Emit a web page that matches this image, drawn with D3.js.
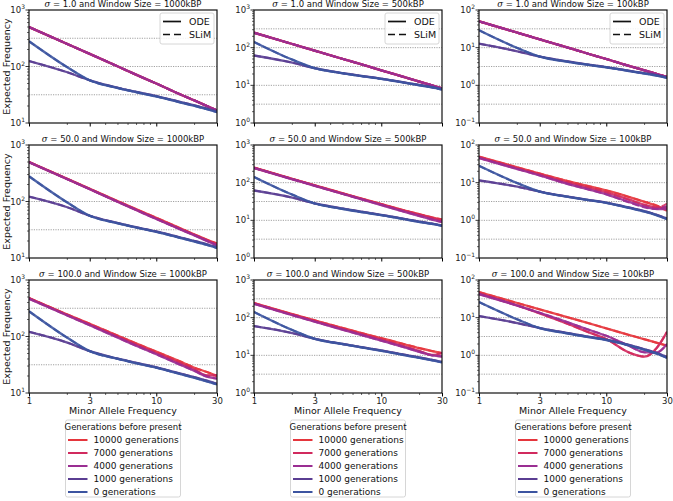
<!DOCTYPE html>
<html>
<head>
<meta charset="utf-8">
<script src="https://cdn.jsdelivr.net/npm/d3@7"></script>
<style>
  body { margin: 0; background: #fff; }
  svg { display: block; font-family: "DejaVu Sans", sans-serif; }
</style>
</head>
<body>
<svg id="chart" width="673" height="501"></svg>
<script>
// ---------------- DATA ----------------
const xs = [1, 2, 3, 5, 7, 10, 15, 20, 25, 30];
const xTicks = [1, 3, 10, 30];
const sigmas = ["1.0", "50.0", "100.0"];
const windows = ["1000kBP", "500kBP", "100kBP"];
const yDomains = [[10, 1000], [1, 1000], [0.1, 100]];
const generations = ["10000 generations", "7000 generations", "4000 generations", "1000 generations", "0 generations"];
const genColors = ["#e5363d", "#d12a5e", "#9a2e92", "#5a3d92", "#3c54a0"];
const models = ["ODE", "SLiM"];

// ODE expected frequencies, order: 10000, 7000, 4000, 1000, 0 generations
const ode_s1_w1000 = [
  [500, 250, 167, 100, 71, 50, 33, 25, 20, 16.7],
  [500, 250, 167, 100, 71, 50, 33, 25, 20, 16.7],
  [500, 250, 167, 100, 71, 50, 33, 25, 20, 16.7],
  [125, 79, 57, 42, 35.5, 30, 24, 20.5, 18, 16],
  [280, 97, 57, 41.5, 35, 29.5, 23.5, 20, 17.5, 15.5]
];
const ode_s1_w500 = [
  [250, 125, 83, 50, 36, 25, 16.7, 12.5, 10, 8.3],
  [250, 125, 83, 50, 36, 25, 16.7, 12.5, 10, 8.3],
  [250, 125, 83, 50, 36, 25, 16.7, 12.5, 10, 8.3],
  [62, 40, 28.5, 21, 17.8, 15, 12, 10.2, 9, 8],
  [142, 48, 28.5, 20.8, 17.5, 14.8, 11.8, 10, 8.8, 7.7]
];
const ode_s1_w100 = [
  [50, 25, 16.7, 10, 7.1, 5, 3.3, 2.5, 2, 1.67],
  [50, 25, 16.7, 10, 7.1, 5, 3.3, 2.5, 2, 1.67],
  [50, 25, 16.7, 10, 7.1, 5, 3.3, 2.5, 2, 1.67],
  [12.8, 8, 5.8, 4.3, 3.6, 3.05, 2.45, 2.1, 1.85, 1.62],
  [29, 9.8, 5.8, 4.2, 3.55, 3.0, 2.4, 2.05, 1.8, 1.57]
];
const ode_s50_w1000 = [
  [500, 251, 168, 101, 72.5, 51.5, 34.5, 26, 21, 18],
  [500, 250, 166, 99, 71, 50, 33.5, 25.5, 20.5, 17.3],
  [495, 248, 165, 98, 70, 49, 33, 25, 20, 16.7],
  [122, 79, 56, 41.5, 35, 29.5, 23.5, 20, 17.5, 15.5],
  [280, 96, 56, 41, 34.5, 29, 23, 19.5, 17, 15]
];
const ode_s50_w500 = [
  [250, 126, 85, 52, 37.5, 27, 18.5, 14.5, 12, 10.5],
  [250, 125, 84, 51, 37, 26.5, 18, 14, 11.5, 10],
  [245, 123, 82, 50, 36, 25.5, 17, 13, 10.5, 9],
  [62, 40, 28, 20.5, 17, 14, 11, 9.3, 8.2, 7.3],
  [142, 48, 28, 20, 16.5, 13.7, 10.7, 9, 8, 7.1]
];
const ode_s50_w100 = [
  [49, 25.5, 17.5, 11, 8.3, 6.2, 4.2, 3.1, 2.4, 1.8],
  [47, 24, 16.5, 10, 7.5, 5.5, 3.6, 2.6, 2.2, 2.2],
  [45, 23, 15.5, 9.2, 6.8, 4.9, 3.1, 2.3, 2.0, 2.0],
  [11.5, 7.8, 5.8, 4.25, 3.55, 2.95, 2.2, 1.75, 1.4, 1.12],
  [28, 9.7, 5.8, 4.2, 3.5, 2.9, 2.15, 1.7, 1.35, 1.08]
];
const ode_s100_w1000 = [
  [480, 245, 168, 103, 75, 54, 37, 28, 23.5, 20],
  [475, 240, 163, 99, 71, 51, 34.5, 26, 20.5, 20.5],
  [465, 235, 158, 95, 68, 48.5, 32.5, 24.5, 19.5, 18],
  [121, 78, 55, 40.5, 34, 28.5, 22.5, 19, 16.5, 14.5],
  [280, 95, 55, 40, 33.5, 28, 22, 18.5, 16, 14.2]
];
const ode_s100_w500 = [
  [245, 124, 85, 53, 39, 28.5, 20, 15.5, 13, 11.5],
  [240, 120, 81, 50, 36.5, 26, 17.5, 13, 10.2, 11.5],
  [232, 116, 78, 47.5, 34.5, 24.5, 16.5, 12.3, 10, 9.3],
  [60, 39, 27.5, 20, 16.5, 13.5, 10.5, 8.8, 7.6, 6.7],
  [142, 47, 27.5, 19.8, 16.2, 13.2, 10.2, 8.5, 7.4, 6.5]
];
const ode_s100_w100 = [
  [48, 24.5, 16.6, 10.2, 7.4, 5.2, 3.5, 2.67, 2.15, 1.8],
  [44, 21, 13, 6.8, 4.3, 2.7, 1.2, 0.92, 1.6, 4.2],
  [42, 21, 13.5, 7.5, 5.0, 3.3, 1.8, 1.2, 1.2, 2.0],
  [11, 7.2, 5.3, 3.9, 3.2, 2.6, 1.9, 1.45, 1.15, 0.9],
  [26, 9, 5.3, 3.8, 3.1, 2.55, 1.85, 1.4, 1.1, 0.85]
];

// SLiM simulated frequencies (overlap ODE except where the tails differ)
const slim_s1_w1000 = ode_s1_w1000;
const slim_s1_w500 = ode_s1_w500;
const slim_s1_w100 = ode_s1_w100;
const slim_s50_w1000 = ode_s50_w1000;
const slim_s50_w500 = ode_s50_w500;
const slim_s50_w100 = [
  [49, 25.5, 17.5, 11, 8.3, 6.2, 4.2, 3.1, 2.5, 2.0],
  [47, 24, 16.5, 10, 7.5, 5.5, 3.5, 2.5, 2.2, 2.8],
  [45, 23, 15.5, 9.2, 6.8, 4.9, 3.0, 2.2, 2.0, 2.4],
  [11.5, 7.8, 5.8, 4.25, 3.55, 2.95, 2.2, 1.75, 1.4, 1.12],
  [28, 9.7, 5.8, 4.2, 3.5, 2.9, 2.15, 1.7, 1.35, 1.08]
];
const slim_s100_w1000 = ode_s100_w1000;
const slim_s100_w500 = ode_s100_w500;
const slim_s100_w100 = ode_s100_w100;

const odeGrid = [
  [ode_s1_w1000, ode_s1_w500, ode_s1_w100],
  [ode_s50_w1000, ode_s50_w500, ode_s50_w100],
  [ode_s100_w1000, ode_s100_w500, ode_s100_w100]
];
const slimGrid = [
  [slim_s1_w1000, slim_s1_w500, slim_s1_w100],
  [slim_s50_w1000, slim_s50_w500, slim_s50_w100],
  [slim_s100_w1000, slim_s100_w500, slim_s100_w100]
];

// ---------------- LAYOUT ----------------
const colLeft = [29, 254, 479];
const rowTop = [10, 145, 280];
const pw = 188, ph = 113;

const svg = d3.select("#chart");
const defs = svg.append("defs");

function supLabel(sel, v) {
  const e = Math.round(Math.log10(v));
  sel.text("10");
  sel.append("tspan").attr("dy", -4).attr("font-size", "6px").text(e < 0 ? "\u2212" + (-e) : String(e));
}

for (let r = 0; r < 3; r++) {
  for (let c = 0; c < 3; c++) {
    const x0 = colLeft[c], y0 = rowTop[r];
    const g = svg.append("g").attr("transform", `translate(${x0},${y0})`);
    const xScale = d3.scaleLog().domain([1, 30]).range([0, pw]);
    const yScale = d3.scaleLog().domain(yDomains[c]).range([ph, 0]);

    // grid lines at half decades
    const lo = Math.log10(yDomains[c][0]), hi = Math.log10(yDomains[c][1]);
    const gridVals = [];
    for (let e = lo + 0.5; e < hi - 0.01; e += 0.5) gridVals.push(Math.pow(10, e));
    g.selectAll(".grid").data(gridVals).enter().append("line")
      .attr("x1", 0).attr("x2", pw)
      .attr("y1", d => yScale(d)).attr("y2", d => yScale(d))
      .attr("stroke", "#8a8a8a").attr("stroke-width", 0.8).attr("stroke-dasharray", "1.2,1.2");

    // clip
    const cid = `clip${r}${c}`;
    defs.append("clipPath").attr("id", cid).append("rect").attr("width", pw).attr("height", ph);
    const lg = g.append("g").attr("clip-path", `url(#${cid})`);

    const line = d3.line().x((d, i) => xScale(xs[i])).y(d => yScale(d)).curve(d3.curveMonotoneX);
    const ode = odeGrid[r][c], slim = slimGrid[r][c];
    for (let k = 0; k < generations.length; k++) {
      lg.append("path").attr("d", line(slim[k])).attr("fill", "none")
        .attr("stroke", genColors[k]).attr("stroke-width", 2).attr("stroke-dasharray", "7,3").attr("opacity", 0.85);
      lg.append("path").attr("d", line(ode[k])).attr("fill", "none")
        .attr("stroke", genColors[k]).attr("stroke-width", 2.3).attr("opacity", 0.9);
    }

    // x axis ticks
    const xAxis = d3.axisBottom(xScale).tickValues(xTicks).tickSize(3.5).tickPadding(1.5)
      .tickFormat(r === 2 ? d3.format("d") : () => "");
    const xa = g.append("g").attr("transform", `translate(0,${ph})`).call(xAxis);
    xa.select(".domain").remove();
    xa.selectAll("text").attr("font-size", "8.5px").attr("fill", "#222").attr("font-family", "DejaVu Sans");
    const xMinor = [2, 4, 5, 6, 7, 8, 9, 20];
    g.selectAll(".xminor").data(xMinor).enter().append("line")
      .attr("x1", d => xScale(d)).attr("x2", d => xScale(d)).attr("y1", ph).attr("y2", ph + 2)
      .attr("stroke", "#000").attr("stroke-width", 0.6);

    // y axis ticks
    const yMajor = [];
    for (let e = lo; e <= hi + 0.01; e++) yMajor.push(Math.pow(10, e));
    const yMinor = [];
    for (let e = lo; e < hi; e++) for (let m = 2; m <= 9; m++) yMinor.push(m * Math.pow(10, e));
    g.selectAll(".yminor").data(yMinor).enter().append("line")
      .attr("x1", -2).attr("x2", 0).attr("y1", d => yScale(d)).attr("y2", d => yScale(d))
      .attr("stroke", "#000").attr("stroke-width", 0.6);
    g.selectAll(".ymajor").data(yMajor).enter().append("line")
      .attr("x1", -3.5).attr("x2", 0).attr("y1", d => yScale(d)).attr("y2", d => yScale(d))
      .attr("stroke", "#000").attr("stroke-width", 0.8);
    g.selectAll(".ylab").data(yMajor).enter().append("text")
      .attr("x", -4).attr("y", d => yScale(d) + 3)
      .attr("text-anchor", "end").attr("font-size", "8.5px").attr("fill", "#222")
      .each(function (d) { supLabel(d3.select(this), d); });

    // frame
    g.append("rect").attr("width", pw).attr("height", ph).attr("fill", "none")
      .attr("stroke", "#111").attr("stroke-width", 1.2);

    // title
    const t = g.append("text").attr("x", pw / 2).attr("y", -3).attr("text-anchor", "middle")
      .attr("font-size", "8.5px").attr("fill", "#111");
    t.append("tspan").attr("font-style", "italic").attr("font-family", "DejaVu Serif").text("\u03c3");
    t.append("tspan").text(` = ${sigmas[r]} and Window Size = ${windows[c]}`);

    // y label
    if (c === 0) {
      svg.append("text").attr("transform", `translate(10,${y0 + ph / 2}) rotate(-90)`)
        .attr("text-anchor", "middle").attr("font-size", "9.5px").attr("fill", "#111")
        .text("Expected Frequency");
    }

    // model legend (top row)
    if (r === 0) {
      const bw = 54, bh = 31, bx = pw - bw - 3, by = 3;
      const lgd = g.append("g").attr("transform", `translate(${bx},${by})`);
      lgd.append("rect").attr("width", bw).attr("height", bh).attr("rx", 2)
        .attr("fill", "#fff").attr("fill-opacity", 0.85).attr("stroke", "#ccc").attr("stroke-width", 0.8);
      models.forEach((m, i) => {
        const yy = 8.5 + i * 13;
        lgd.append("line").attr("x1", 3).attr("x2", 21).attr("y1", yy).attr("y2", yy)
          .attr("stroke", "#111").attr("stroke-width", 1.7)
          .attr("stroke-dasharray", i === 1 ? "7,4" : null);
        lgd.append("text").attr("x", 29).attr("y", yy + 3.3).attr("font-size", "9.5px").attr("fill", "#111").text(m);
      });
    }

    // bottom row: x label and generation legend
    if (r === 2) {
      g.append("text").attr("x", pw / 2).attr("y", ph + 20.5).attr("text-anchor", "middle")
        .attr("font-size", "9.5px").attr("fill", "#111").text("Minor Allele Frequency");
      const bw = 115, bh = 77, bx = pw / 2 - bw / 2, by = ph + 27;
      const lgd = g.append("g").attr("transform", `translate(${bx},${by})`);
      lgd.append("rect").attr("width", bw).attr("height", bh).attr("rx", 2)
        .attr("fill", "#fff").attr("stroke", "#ccc").attr("stroke-width", 0.8);
      lgd.append("text").attr("x", bw / 2).attr("y", 10).attr("text-anchor", "middle")
        .attr("font-size", "8.5px").attr("fill", "#111").text("Generations before present");
      generations.forEach((gname, i) => {
        const yy = 20 + i * 13;
        lgd.append("line").attr("x1", 2.5).attr("x2", 22).attr("y1", yy).attr("y2", yy)
          .attr("stroke", genColors[i]).attr("stroke-width", 2);
        lgd.append("text").attr("x", 28).attr("y", yy + 3.3).attr("font-size", "9px").attr("fill", "#111").text(gname);
      });
    }
  }
}
</script>
</body>
</html>
